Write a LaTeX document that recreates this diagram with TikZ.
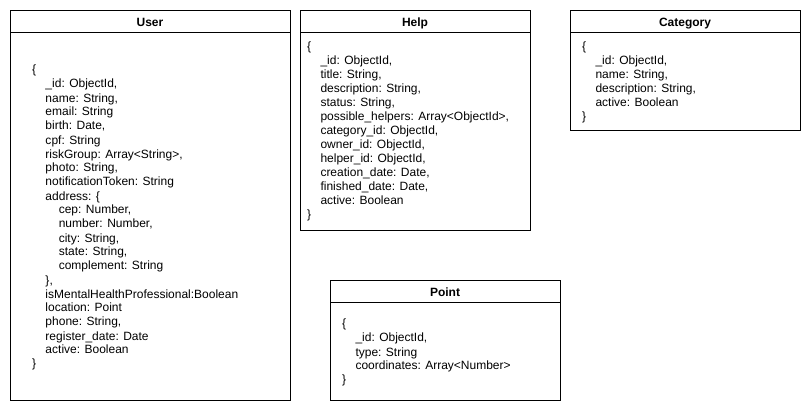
\documentclass[tikz,border=0pt]{standalone}
\usepackage{fontspec}
\setmainfont{Liberation Sans}
\begin{document}
\begin{tikzpicture}[x=1pt,y=-1pt,
  box/.style={draw=black,line width=1pt,fill=white,anchor=north west,inner sep=0pt},
  title/.style={font=\fontsize{12}{14}\selectfont\bfseries,anchor=base,inner sep=0pt},
  body/.style={font=\fontsize{12}{14}\selectfont,align=left,anchor=base west,inner sep=0pt}]
\useasboundingbox (0,0) rectangle (811,411);
\newcommand{\ia}{\hspace*{13.3pt}}
\newcommand{\ib}{\hspace*{26.6pt}}
% User (anchor base = baseline of last line)
\node[box,minimum width=280pt,minimum height=390pt] (user) at (10,10) {};
\draw[line width=1pt] ([yshift=-23pt]user.north west) -- ([yshift=-23pt]user.north east);
\node[title] (usert) at (150,26.5) {User};
\node[body] (userb) at (32,368) {\{\\
\ia\_id: ObjectId,\\
\ia name: String,\\
\ia email: String\\
\ia birth: Date,\\
\ia cpf: String\\
\ia riskGroup: Array<String>,\\
\ia photo: String,\\
\ia notificationToken: String\\
\ia address: \{\\
\ib cep: Number,\\
\ib number: Number,\\
\ib city: String,\\
\ib state: String,\\
\ib complement: String\\
\ia\},\\
\ia isMentalHealthProfessional:Boolean\\
\ia location: Point\\
\ia phone: String,\\
\ia register\_date: Date\\
\ia active: Boolean\\
\}};
% Help
\node[box,minimum width=230pt,minimum height=220pt] (help) at (300,10) {};
\draw[line width=1pt] ([yshift=-23pt]help.north west) -- ([yshift=-23pt]help.north east);
\node[title] (helpt) at (415,26.5) {Help};
\node[body] (helpb) at (307,219) {\{\\
\ia\_id: ObjectId,\\
\ia title: String,\\
\ia description: String,\\
\ia status: String,\\
\ia possible\_helpers: Array<ObjectId>,\\
\ia category\_id: ObjectId,\\
\ia owner\_id: ObjectId,\\
\ia helper\_id: ObjectId,\\
\ia creation\_date: Date,\\
\ia finished\_date: Date,\\
\ia active: Boolean\\
\}};
% Category
\node[box,minimum width=230pt,minimum height=120pt] (cat) at (570,10) {};
\draw[line width=1pt] ([yshift=-23pt]cat.north west) -- ([yshift=-23pt]cat.north east);
\node[title] (catt) at (685,26.5) {Category};
\node[body] (catb) at (582,121) {\{\\
\ia\_id: ObjectId,\\
\ia name: String,\\
\ia description: String,\\
\ia active: Boolean\\
\}};
% Point
\node[box,minimum width=230pt,minimum height=120pt] (point) at (330,280) {};
\draw[line width=1pt] ([yshift=-23pt]point.north west) -- ([yshift=-23pt]point.north east);
\node[title] (pointt) at (445,296.5) {Point};
\node[body] (pointb) at (342,384) {\{\\
\ia\_id: ObjectId,\\
\ia type: String\\
\ia coordinates: Array<Number>\\
\}};
\end{tikzpicture}
\end{document}
